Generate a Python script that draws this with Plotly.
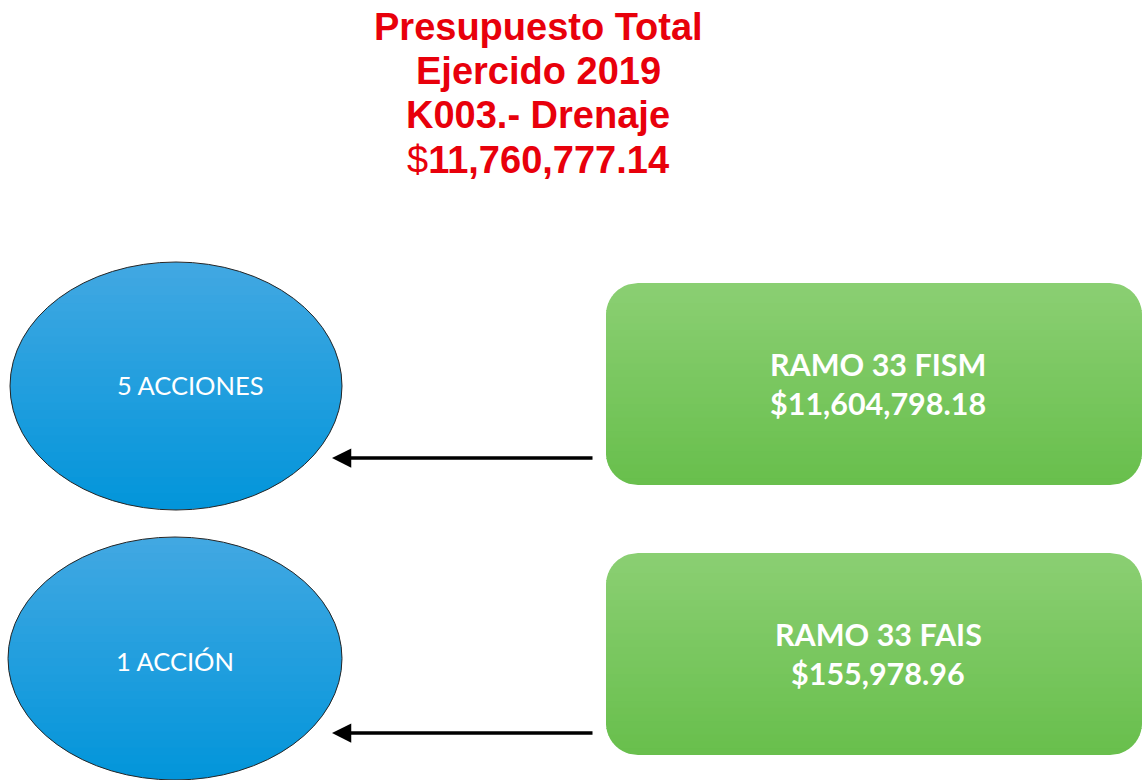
import plotly.graph_objects as go
import numpy as np

# ---- content ----
title_lines = ["Presupuesto Total", "Ejercido 2019", "K003.- Drenaje"]
total_amount = "11,760,777.14"
actions = ["5 ACCIONES", "1 ACCIÓN"]
funds = ["RAMO 33 FISM", "RAMO 33 FAIS"]
amounts = ["$11,604,798.18", "$155,978.96"]

W, H = 1143, 780
fig = go.Figure()

# layout geometry (pixels)
ell_boxes = [(10, 262, 342, 510), (8, 537, 342, 780)]
ell_text_pos = [(190, 385), (175, 661)]
rect_boxes = [(606, 283, 1142, 485), (606, 553, 1142, 755)]
arrows_y = [458, 733]
title_y = [27, 71, 115, 160]


def lerp(c1, c2, t):
    return "rgb(%d,%d,%d)" % tuple(round(a + (b - a) * t) for a, b in zip(c1, c2))


def poly_path(pts):
    return "M" + " L".join(f"{x:.2f},{y:.2f}" for x, y in pts) + " Z"


shapes = []

# ---- ellipses with vertical gradient ----
blue_top, blue_bot = (66, 168, 226), (2, 149, 218)
for (x0, y0, x1, y1) in ell_boxes:
    cx, cy, rx, ry = (x0 + x1) / 2, (y0 + y1) / 2, (x1 - x0) / 2, (y1 - y0) / 2
    n = 30
    for i in range(n):
        ya = y0 + (y1 - y0) * i / n
        yb = min(y1, y0 + (y1 - y0) * (i + 1) / n + 1.0)
        ys = np.linspace(ya, yb, 6)
        half = rx * np.sqrt(np.clip(1 - ((ys - cy) / ry) ** 2, 0, 1))
        pts = [(cx - h, y) for h, y in zip(half, ys)] + [(cx + h, y) for h, y in zip(half[::-1], ys[::-1])]
        shapes.append(dict(type="path", xref="x", yref="y", path=poly_path(pts),
                           fillcolor=lerp(blue_top, blue_bot, (i + 0.5) / n),
                           line=dict(width=0), layer="below"))
    shapes.append(dict(type="circle", xref="x", yref="y", x0=x0, y0=y0, x1=x1, y1=y1,
                       fillcolor="rgba(0,0,0,0)", line=dict(color="#262626", width=1), layer="below"))

# ---- rounded boxes with vertical gradient ----
green_top, green_bot = (139, 207, 115), (104, 191, 76)
R = 32
for (x0, y0, x1, y1) in rect_boxes:
    n = 30
    for i in range(n):
        ya = y0 + (y1 - y0) * i / n
        yb = min(y1, y0 + (y1 - y0) * (i + 1) / n + 1.0)
        ys = np.linspace(ya, yb, 6)
        inset = []
        for y in ys:
            if y < y0 + R:
                d = y0 + R - y
                inset.append(R - np.sqrt(max(R * R - d * d, 0)))
            elif y > y1 - R:
                d = y - (y1 - R)
                inset.append(R - np.sqrt(max(R * R - d * d, 0)))
            else:
                inset.append(0.0)
        pts = [(x0 + s, y) for s, y in zip(inset, ys)] + [(x1 - s, y) for s, y in zip(inset[::-1], ys[::-1])]
        shapes.append(dict(type="path", xref="x", yref="y", path=poly_path(pts),
                           fillcolor=lerp(green_top, green_bot, (i + 0.5) / n),
                           line=dict(width=0), layer="below"))

fig.update_layout(shapes=shapes)

annotations = []
# title lines
title_texts = [f"<b>{t}</b>" for t in title_lines] + [f"$<b>{total_amount}</b>"]
for t, y in zip(title_texts, title_y):
    annotations.append(dict(x=538, y=y, xref="x", yref="y", text=t, showarrow=False,
                            xanchor="center", yanchor="middle",
                            font=dict(family="Liberation Sans, Arial", size=38, color="#e8000b")))

for (x, y), lab in zip(ell_text_pos, actions):
    annotations.append(dict(x=x, y=y, xref="x", yref="y", text=lab, showarrow=False,
                            font=dict(family="Lato, Open Sans", size=25.5, color="white")))

for (x0, y0, x1, y1), f, a in zip(rect_boxes, funds, amounts):
    cx, cy = 878, (y0 + y1) / 2
    annotations.append(dict(x=cx, y=cy - 20, xref="x", yref="y", text=f"<b>{f}</b>",
                            showarrow=False, font=dict(family="Lato, Open Sans", size=30.5, color="white")))
    annotations.append(dict(x=cx, y=cy + 19, xref="x", yref="y", text=f"<b>{a}</b>",
                            showarrow=False, font=dict(family="Lato, Open Sans", size=30.5, color="white")))

for y in arrows_y:
    annotations.append(dict(x=332, y=y, ax=594, ay=y, xref="x", yref="y", axref="x", ayref="y",
                            text="", showarrow=True, arrowhead=2, arrowsize=1.1, arrowwidth=3.5,
                            arrowcolor="black", standoff=0))

fig.update_layout(annotations=annotations)

fig.update_xaxes(range=[0, W], visible=False, fixedrange=True)
fig.update_yaxes(range=[H, 0], visible=False, fixedrange=True)
fig.update_layout(width=W, height=H, margin=dict(l=0, r=0, t=0, b=0),
                  plot_bgcolor="white", paper_bgcolor="white", showlegend=False)

fig.write_html("out.html", config={"displayModeBar": False},
               post_script="document.body.style.margin='0';document.body.style.overflow='hidden';")
